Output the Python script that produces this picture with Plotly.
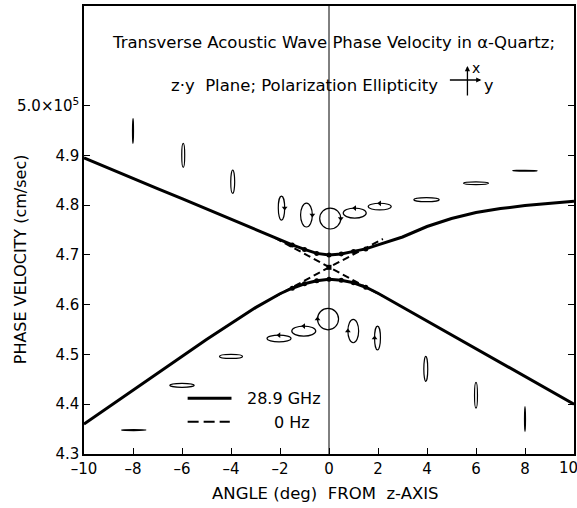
import plotly.graph_objects as go

# ---------------- data ----------------
angles = [-10, -9, -8, -7, -6, -5, -4, -3, -2, -1.5, -1, -0.5, 0, 0.5, 1, 1.5, 2, 3, 4, 5, 6, 7, 8, 9, 10]
upper_289 = [4.895, 4.874, 4.854, 4.833, 4.813, 4.792, 4.772, 4.751, 4.730, 4.720, 4.711, 4.703, 4.700,
             4.702, 4.707, 4.712, 4.720, 4.736, 4.757, 4.773, 4.785, 4.793, 4.799, 4.804, 4.808]
lower_289 = [4.360, 4.394, 4.428, 4.462, 4.497, 4.530, 4.562, 4.594, 4.622, 4.633, 4.642, 4.648, 4.651,
             4.649, 4.644, 4.635, 4.623, 4.595, 4.567, 4.539, 4.511, 4.483, 4.455, 4.428, 4.400]

zero_x = [-2.2, 0, 2.2]
zero_a = [4.734, 4.675, 4.617]
zero_b = [4.616, 4.675, 4.732]

dot_x = [-1.5, -1, -0.5, 0, 0.5, 1, 1.5]
dot_upper = [4.720, 4.711, 4.703, 4.700, 4.702, 4.707, 4.712]
dot_lower = [4.633, 4.642, 4.648, 4.651, 4.649, 4.644, 4.635]
cross_x = [0]
cross_v = [4.675]

# polarization ellipses: centre angle, centre velocity, half-width (deg), half-height (velocity)
up_ell_x = [-8.0, -5.95, -3.93, -1.94, -0.92, 0.05, 1.05, 2.07, 3.98, 6.0, 8.0]
up_ell_v = [4.949, 4.900, 4.847, 4.794, 4.780, 4.773, 4.784, 4.797, 4.811, 4.844, 4.869]
up_ell_dx = [0.02, 0.06, 0.08, 0.13, 0.24, 0.43, 0.47, 0.47, 0.52, 0.51, 0.50]
up_ell_dv = [0.025, 0.024, 0.0235, 0.024, 0.024, 0.021, 0.010, 0.0067, 0.004, 0.0027, 0.001]
# sense-of-rotation arrow on each ellipse: (side, direction) or None
up_ell_arrow = [None, None, None, ("right", "down"), ("right", "down"), ("right", "down"),
                ("top", "left"), ("top", "left"), None, None, None]

lo_ell_x = [-7.97, -6.0, -4.0, -2.04, -1.03, -0.04, 0.99, 1.98, 3.95, 6.0, 8.0]
lo_ell_v = [4.348, 4.438, 4.496, 4.532, 4.547, 4.571, 4.547, 4.533, 4.471, 4.418, 4.370]
lo_ell_dx = [0.50, 0.50, 0.47, 0.49, 0.49, 0.43, 0.22, 0.12, 0.08, 0.06, 0.02]
lo_ell_dv = [0.001, 0.004, 0.004, 0.0067, 0.010, 0.0215, 0.0235, 0.024, 0.025, 0.026, 0.025]
lo_ell_arrow = [None, None, None, ("top", "left"), ("top", "left"), ("left", "up"),
                ("left", "up"), ("left", "up"), None, None, None]

x_ticks = [-10, -8, -6, -4, -2, 0, 2, 4, 6, 8, 10]
x_tick_text = ["\u201310", "\u20138", "\u20136", "\u20134", "\u20132", "0", "2", "4", "6", "8", ""]
x_last_label = "10"
y_ticks = [4.3, 4.4, 4.5, 4.6, 4.7, 4.8, 4.9, 5.0]
y_tick_text = ["4.3", "4.4", "4.5", "4.6", "4.7", "4.8", "4.9", "5.0\u00d710<sup>5</sup>"]

legend_solid = "28.9 GHz"
legend_dash = "0 Hz"
title1 = "Transverse Acoustic Wave Phase Velocity in \u03b1-Quartz;"
title2 = "z\u00b7y  Plane; Polarization Ellipticity"

FONT = "DejaVu Sans"
INK = "#000000"

fig = go.Figure()

fig.add_trace(go.Scatter(x=angles, y=upper_289, mode="lines", line=dict(color=INK, width=3),
                         showlegend=False, hoverinfo="skip"))
fig.add_trace(go.Scatter(x=angles, y=lower_289, mode="lines", line=dict(color=INK, width=3),
                         showlegend=False, hoverinfo="skip"))
fig.add_trace(go.Scatter(x=zero_x, y=zero_a, mode="lines", line=dict(color=INK, width=2, dash="7px,4px"),
                         showlegend=False, hoverinfo="skip"))
fig.add_trace(go.Scatter(x=zero_x, y=zero_b, mode="lines", line=dict(color=INK, width=2, dash="7px,4px"),
                         showlegend=False, hoverinfo="skip"))
fig.add_trace(go.Scatter(x=dot_x + dot_x, y=dot_upper + dot_lower, mode="markers",
                         marker=dict(color=INK, size=5), showlegend=False, hoverinfo="skip"))
fig.add_trace(go.Scatter(x=cross_x, y=cross_v, mode="markers",
                         marker=dict(color=INK, size=5, symbol="square"), showlegend=False, hoverinfo="skip"))

shapes = []
# vertical line at 0 deg
shapes.append(dict(type="line", xref="x", yref="paper", x0=0, x1=0, y0=0, y1=1,
                   line=dict(color=INK, width=1)))
arr_x, arr_y, arr_sym = [], [], []
sym_of = {"down": "triangle-down", "up": "triangle-up", "left": "triangle-left", "right": "triangle-right"}
for xs, vs, dxs, dvs, arrs in [(up_ell_x, up_ell_v, up_ell_dx, up_ell_dv, up_ell_arrow),
                               (lo_ell_x, lo_ell_v, lo_ell_dx, lo_ell_dv, lo_ell_arrow)]:
    for cx, cv, dx, dv, arr in zip(xs, vs, dxs, dvs, arrs):
        shapes.append(dict(type="circle", xref="x", yref="y",
                           x0=cx - dx, x1=cx + dx, y0=cv - dv, y1=cv + dv,
                           line=dict(color=INK, width=1.2)))
        if arr:
            side, direction = arr
            if side == "right":
                arr_x.append(cx + dx); arr_y.append(cv)
            elif side == "left":
                arr_x.append(cx - dx); arr_y.append(cv)
            else:
                arr_x.append(cx); arr_y.append(cv + dv)
            arr_sym.append(sym_of[direction])

fig.add_trace(go.Scatter(x=arr_x, y=arr_y, mode="markers",
                         marker=dict(color=INK, size=5, symbol=arr_sym, line=dict(width=0)),
                         showlegend=False, hoverinfo="skip"))

# legend samples (data coordinates)
shapes.append(dict(type="line", xref="x", yref="y", x0=-5.77, x1=-3.98, y0=4.412, y1=4.412,
                   line=dict(color=INK, width=3)))
shapes.append(dict(type="line", xref="x", yref="y", x0=-5.77, x1=-4.05, y0=4.365, y1=4.365,
                   line=dict(color=INK, width=2, dash="11px,5px")))

# helper for paper coords from pixel positions
L, R, T, B = 84, 576, 6, 454
def px(xp):
    return (xp - L) / (R - L)
def py(yp):
    return (B - yp) / (B - T)

annotations = [
    dict(text=title1, x=px(335), y=py(43), xref="paper", yref="paper", showarrow=False,
         font=dict(family=FONT, size=16.5, color=INK), xanchor="center", yanchor="middle"),
    dict(text=title2, x=px(169), y=py(85), xref="paper", yref="paper", showarrow=False,
         font=dict(family=FONT, size=16.5, color=INK), xanchor="left", yanchor="middle"),
    # axes glyph
    dict(text="", x=px(483), y=py(80), ax=-33, ay=0, xref="paper", yref="paper",
         showarrow=True, arrowhead=2, arrowsize=0.8, arrowwidth=1.3, arrowcolor=INK),
    dict(text="", x=px(469), y=py(66), ax=0, ay=31, xref="paper", yref="paper",
         showarrow=True, arrowhead=2, arrowsize=0.8, arrowwidth=1.3, arrowcolor=INK),
    dict(text="x", x=px(478), y=py(68), xref="paper", yref="paper", showarrow=False,
         font=dict(family=FONT, size=14, color=INK), xanchor="center", yanchor="middle"),
    dict(text="y", x=px(490), y=py(85), xref="paper", yref="paper", showarrow=False,
         font=dict(family=FONT, size=16, color=INK), xanchor="center", yanchor="middle"),
    # legend texts
    dict(text=legend_solid, x=px(246), y=py(398), xref="paper", yref="paper", showarrow=False,
         font=dict(family=FONT, size=16, color=INK), xanchor="left", yanchor="middle"),
    dict(text=legend_dash, x=px(273), y=py(422), xref="paper", yref="paper", showarrow=False,
         font=dict(family=FONT, size=16, color=INK), xanchor="left", yanchor="middle"),
    # last x tick label, which sits at the very edge of the figure
    dict(text=x_last_label, x=10, xref="x", y=py(468), yref="paper", showarrow=False,
         font=dict(family=FONT, size=15, color=INK), xanchor="center", yanchor="middle", xshift=-6),
    # axis titles
    dict(text="PHASE VELOCITY (cm/sec)", x=px(20), y=py(259), xref="paper", yref="paper",
         showarrow=False, textangle=-90, font=dict(family=FONT, size=16, color=INK),
         xanchor="center", yanchor="middle"),
    dict(text="ANGLE (deg)  FROM  z-AXIS", x=px(326), y=py(494), xref="paper", yref="paper",
         showarrow=False, font=dict(family=FONT, size=16.5, color=INK),
         xanchor="center", yanchor="middle"),
]

fig.update_layout(
    width=577, height=508,
    margin=dict(l=L, r=577 - R, t=T, b=508 - B),
    paper_bgcolor="white", plot_bgcolor="white",
    shapes=shapes, annotations=annotations,
    showlegend=False,
    font=dict(family=FONT, size=15, color=INK),
)
fig.update_xaxes(range=[-10, 10], tickvals=x_ticks, ticktext=x_tick_text, ticks="inside", ticklen=6,
                 tickwidth=1.3, tickcolor=INK, showline=True, linecolor=INK, linewidth=1.5, mirror=True,
                 showgrid=False, zeroline=False, tickfont=dict(family=FONT, size=15, color=INK))
fig.update_yaxes(range=[4.3, 5.2], tickvals=y_ticks, ticktext=y_tick_text, ticks="inside", ticklen=6,
                 tickwidth=1.3, tickcolor=INK, showline=True, linecolor=INK, linewidth=1.5, mirror="ticks",
                 showgrid=False, zeroline=False, tickfont=dict(family=FONT, size=15, color=INK))

fig.write_html("out.html", config={"displayModeBar": False},
               post_script="document.body.style.margin='0px';document.body.style.overflow='hidden';")
